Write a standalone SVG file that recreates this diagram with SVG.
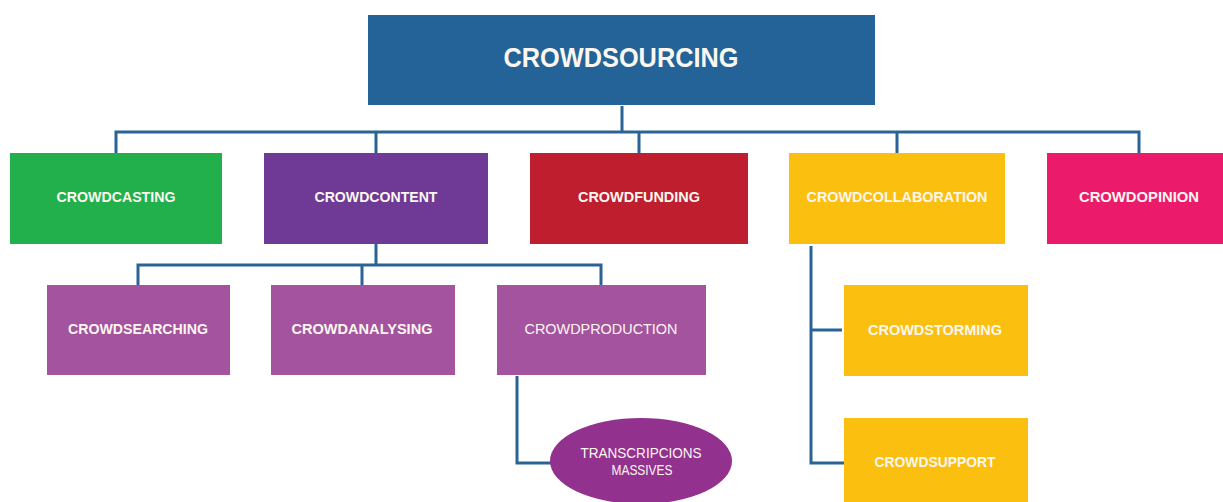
<svg xmlns="http://www.w3.org/2000/svg" width="1223" height="502" viewBox="0 0 1223 502">
<style>
.lbl{font-family:"Liberation Sans","DejaVu Sans",Arial,sans-serif;font-weight:bold;font-size:14px;fill:#fbf7ef;text-anchor:middle}
.thin{font-weight:normal}
.big{font-size:28px}
.con{fill:none;stroke:#2a6496;stroke-width:3}
</style>
<rect width="1223" height="502" fill="#ffffff"/>
<g id="connectors">
<path class="con" d="M622,106 V132 M116,153 V132 H1139 V153 M376,132 V153 M639,132 V153 M897,132 V153"/>
<path class="con" d="M376,244 V265 M138,285 V265 H601 V285 M362,265 V285"/>
<path class="con" d="M517,376 V463 H551"/>
<path class="con" d="M842,330 H811 V246 M811,330 V463 H844"/>
</g>
<g id="crowdsourcing"><rect x="368" y="15" width="507" height="90" fill="#236398"/><text class="lbl big" x="621" y="67" textLength="235" lengthAdjust="spacingAndGlyphs">CROWDSOURCING</text></g>
<g id="crowdcasting"><rect x="10" y="153" width="212" height="91" fill="#21b04b"/><text class="lbl" x="116" y="202" textLength="119" lengthAdjust="spacingAndGlyphs">CROWDCASTING</text></g>
<g id="crowdcontent"><rect x="264" y="153" width="224" height="91" fill="#6f3996"/><text class="lbl" x="376" y="202" textLength="123" lengthAdjust="spacingAndGlyphs">CROWDCONTENT</text></g>
<g id="crowdfunding"><rect x="530" y="153" width="218" height="91" fill="#be1e2d"/><text class="lbl" x="639" y="202" textLength="122" lengthAdjust="spacingAndGlyphs">CROWDFUNDING</text></g>
<g id="crowdcollaboration"><rect x="789" y="153" width="216" height="91" fill="#fbc00f"/><text class="lbl" x="897" y="202" textLength="181" lengthAdjust="spacingAndGlyphs">CROWDCOLLABORATION</text></g>
<g id="crowdopinion"><rect x="1047" y="153" width="176" height="91" fill="#ec1a6b"/><text class="lbl" x="1139" y="202" textLength="120" lengthAdjust="spacingAndGlyphs">CROWDOPINION</text></g>
<g id="crowdsearching"><rect x="47" y="285" width="183" height="90" fill="#a4539f"/><text class="lbl" x="138" y="334" textLength="140" lengthAdjust="spacingAndGlyphs">CROWDSEARCHING</text></g>
<g id="crowdanalysing"><rect x="271" y="285" width="184" height="90" fill="#a4539f"/><text class="lbl" x="362" y="334" textLength="141" lengthAdjust="spacingAndGlyphs">CROWDANALYSING</text></g>
<g id="crowdproduction"><rect x="497" y="285" width="209" height="90" fill="#a4539f"/><text class="lbl thin" x="601" y="334" textLength="153" lengthAdjust="spacingAndGlyphs">CROWDPRODUCTION</text></g>
<g id="transcripcions"><ellipse cx="641" cy="461" rx="91" ry="43" fill="#93318f"/><text class="lbl thin" x="641" y="458" textLength="121" lengthAdjust="spacingAndGlyphs">TRANSCRIPCIONS</text><text class="lbl thin" x="642" y="475" textLength="61" lengthAdjust="spacingAndGlyphs">MASSIVES</text></g>
<g id="crowdstorming"><rect x="844" y="285" width="184" height="91" fill="#fbc00f"/><text class="lbl" x="935" y="335" textLength="134" lengthAdjust="spacingAndGlyphs">CROWDSTORMING</text></g>
<g id="crowdsupport"><rect x="844" y="418" width="184" height="90" fill="#fbc00f"/><text class="lbl" x="935" y="467" textLength="121" lengthAdjust="spacingAndGlyphs">CROWDSUPPORT</text></g>
</svg>
